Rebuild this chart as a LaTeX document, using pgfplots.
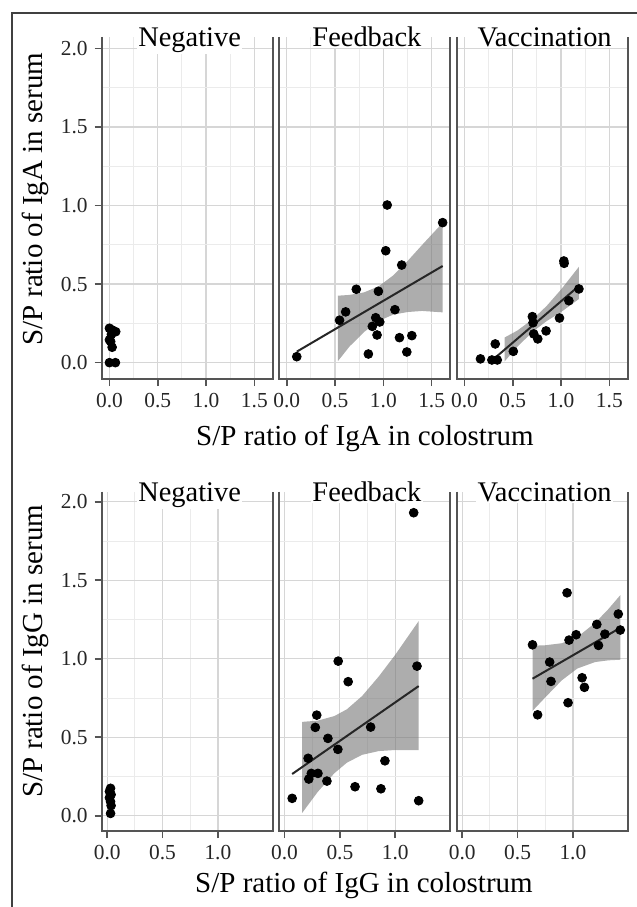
\documentclass[border=0pt]{standalone}
\usepackage{pgfplots}
\pgfplotsset{compat=1.18}
\usepackage{fontspec}
\setmainfont{Liberation Serif}
\definecolor{gridmaj}{HTML}{D6D6D6}
\definecolor{gridmin}{HTML}{EBEBEB}
\definecolor{bordercol}{HTML}{555555}
\definecolor{bandcol}{HTML}{7A7A7A}
\newcommand{\tl}[1]{{\fontsize{10.7bp}{12.5bp}\selectfont\color{black!85}#1}}
\pgfplotsset{
 panel/.style={
   scale only axis, width=85.5bp,
   axis line style={draw=none},
   tick align=outside, major tick length=3.5bp, minor tick length=0pt,
   xtick pos=lower, ytick pos=left,
   grid=both, minor tick num=1,
   major grid style={gridmaj, line width=0.6bp},
   minor grid style={gridmin, line width=0.5bp},
   tick style={bordercol, line width=0.8bp},
 },
 toprow/.style={panel, height=171bp, xmin=-0.08, xmax=1.69, ymin=-0.104, ymax=2.072,
   xtick={0,0.5,1,1.5}, xticklabels={\tl{0.0},\tl{0.5},\tl{1.0},\tl{1.5}},
   ytick={0,0.5,1,1.5,2}, yticklabels={\tl{0.0},\tl{0.5},\tl{1.0},\tl{1.5},\tl{2.0}}},
 botrow/.style={panel, height=169.65bp, xmin=-0.05, xmax=1.495, ymin=-0.097, ymax=2.064,
   xtick={0,0.5,1}, xticklabels={\tl{0.0},\tl{0.5},\tl{1.0}},
   ytick={0,0.5,1,1.5,2}, yticklabels={\tl{0.0},\tl{0.5},\tl{1.0},\tl{1.5},\tl{2.0}}},
 noy/.style={yticklabels={}, ytick style={draw=none}},
 strip/.style={extra description/.code={
   \draw[bordercol, line width=1bp] (axis description cs:0,1) -- (axis description cs:0,0) -- (axis description cs:1,0) -- (axis description cs:1,1);
   \node[anchor=base, fill=white, inner sep=0.6bp, font=\fontsize{14.2bp}{16bp}\selectfont] at ([xshift=1.2bp,yshift=-4.85bp]axis description cs:0.5,1) {#1};}},
 pts/.style={only marks, mark=*, mark size=2.2bp, black},
 fit/.style={black!85, line width=1bp},
 band/.style={draw=none, fill=bandcol, fill opacity=0.62},
}
\begin{document}
\begin{tikzpicture}
\useasboundingbox (0,0) rectangle (318.5bp,-453.5bp);
\draw[black!75, line width=0.75bp] (6bp,-453.5bp) -- (6bp,-6.5bp) -- (318.5bp,-6.5bp);

% ---------------- top row: IgA ----------------
\begin{axis}[toprow, strip=Negative, at={(50.85bp,-18.5bp)}, anchor=north west]
\addplot[pts] coordinates {(0.0,0.219)(0.028,0.208)(0.065,0.197)(0.02,0.18)(0.0,0.145)(0.013,0.134)(0.028,0.098)(0.0,0.0)(0.062,0.0)};
\end{axis}

\begin{axis}[toprow, noy, strip=Feedback, at={(139.5bp,-18.5bp)}, anchor=north west]
\addplot[band] coordinates {(0.53,0.426)(0.65,0.431)(0.8,0.447)(0.95,0.485)(1.1,0.554)(1.25,0.646)(1.4,0.748)(1.614,0.890)
  (1.614,0.320)(1.4,0.329)(1.25,0.322)(1.1,0.305)(0.95,0.265)(0.8,0.195)(0.65,0.103)(0.53,0.010)};
\addplot[fit] coordinates {(0.104,0.07)(1.614,0.615)};
\addplot[pts] coordinates {(0.104,0.038)(1.04,1.003)(1.614,0.891)(1.025,0.712)(1.19,0.621)(0.72,0.467)(0.949,0.454)(0.61,0.323)(0.547,0.27)(1.12,0.337)(0.921,0.286)(0.963,0.259)(0.886,0.231)(0.935,0.176)(1.167,0.159)(1.295,0.172)(0.845,0.055)(1.243,0.068)};
\end{axis}

\begin{axis}[toprow, noy, strip=Vaccination, at={(228.35bp,-18.5bp)}, anchor=north west]
\addplot[band] coordinates {(0.416,0.160)(0.55,0.205)(0.711,0.279)(0.85,0.360)(1.0,0.465)(1.185,0.610)
  (1.185,0.405)(1.0,0.322)(0.85,0.264)(0.711,0.199)(0.55,0.103)(0.416,0.008)};
\addplot[fit] coordinates {(0.312,0.028)(1.185,0.488)};
\addplot[pts] coordinates {(0.166,0.024)(0.284,0.017)(0.34,0.017)(0.319,0.119)(0.506,0.072)(0.703,0.293)(0.71,0.254)(0.717,0.183)(0.759,0.151)(0.845,0.202)(0.984,0.284)(1.029,0.647)(1.032,0.632)(1.081,0.394)(1.185,0.469)};
\end{axis}

% ---------------- bottom row: IgG ----------------
\begin{axis}[botrow, strip=Negative, at={(50.85bp,-245.85bp)}, anchor=north west]
\addplot[pts] coordinates {(0.03,0.175)(0.02,0.155)(0.035,0.135)(0.02,0.115)(0.03,0.09)(0.035,0.065)(0.03,0.015)};
\end{axis}

\begin{axis}[botrow, noy, strip=Feedback, at={(139.5bp,-245.85bp)}, anchor=north west]
\addplot[band] coordinates {(0.159,0.598)(0.3,0.606)(0.45,0.635)(0.563,0.678)(0.7,0.762)(0.85,0.886)(1.0,1.025)(1.212,1.240)
  (1.212,0.418)(1.0,0.419)(0.85,0.412)(0.7,0.388)(0.563,0.338)(0.45,0.271)(0.3,0.152)(0.159,0.018)};
\addplot[fit] coordinates {(0.069,0.266)(1.212,0.826)};
\addplot[pts] coordinates {(0.485,0.985)(1.197,0.953)(0.575,0.854)(0.291,0.641)(0.278,0.563)(0.778,0.565)(0.392,0.493)(0.482,0.423)(0.213,0.366)(0.907,0.35)(0.242,0.27)(0.302,0.27)(0.219,0.234)(0.383,0.221)(0.637,0.185)(0.871,0.172)(0.069,0.111)(1.212,0.096)(1.167,1.93)};
\end{axis}

\begin{axis}[botrow, noy, strip=Vaccination, at={(228.35bp,-245.85bp)}, anchor=north west]
\addplot[band] coordinates {(0.635,1.083)(0.75,1.086)(0.9,1.099)(1.04,1.138)(1.2,1.228)(1.32,1.316)(1.428,1.405)
  (1.428,0.994)(1.32,0.990)(1.2,0.979)(1.04,0.938)(0.9,0.863)(0.75,0.754)(0.635,0.668)};
\addplot[fit] coordinates {(0.635,0.873)(1.428,1.197)};
\addplot[pts] coordinates {(0.947,1.42)(0.635,1.089)(0.965,1.119)(1.029,1.153)(1.216,1.219)(1.41,1.285)(1.428,1.183)(1.289,1.157)(1.231,1.085)(0.79,0.979)(0.802,0.856)(1.083,0.879)(1.104,0.818)(0.956,0.72)(0.681,0.643)};
\end{axis}

% ---------------- axis titles ----------------
\node[anchor=base, font=\fontsize{14.5bp}{16bp}\selectfont] at (182.5bp,-222.5bp) {S/P ratio of IgA in colostrum};
\node[anchor=base, font=\fontsize{14.5bp}{16bp}\selectfont] at (182bp,-446bp) {S/P ratio of IgG in colostrum};
\node[anchor=base, rotate=90, font=\fontsize{14.5bp}{16bp}\selectfont] at (21.25bp,-99.5bp) {S/P ratio of IgA in serum};
\node[anchor=base, rotate=90, font=\fontsize{14.5bp}{16bp}\selectfont] at (21.25bp,-325.5bp) {S/P ratio of IgG in serum};
\end{tikzpicture}
\end{document}
